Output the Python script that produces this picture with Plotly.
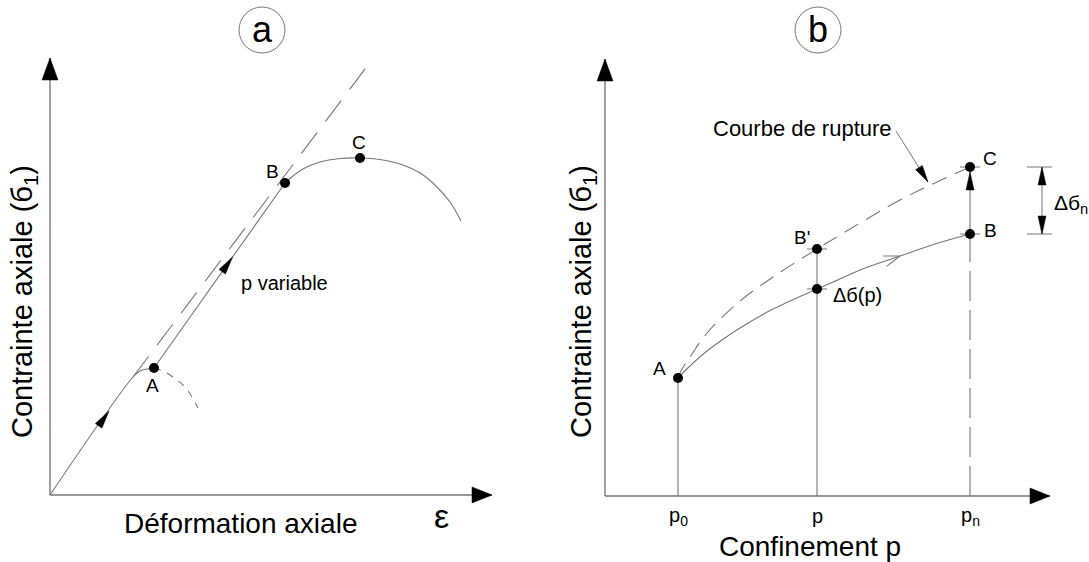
import numpy as np
import plotly.graph_objects as go

# ---------------- data (1 unit = 10 px on both axes) ----------------
# Panel a : axial stress vs axial strain
a_axis_x_end = 44.2
a_axis_y_end = 43.7
a_load_x = [0, 8.3, 9.0, 9.7, 10.4]
a_load_y = [0, 11.8, 12.4, 12.6, 12.7]
a_unload_x = [10.4, 11.5, 12.7, 13.5, 14.2, 14.8]
a_unload_y = [12.7, 12.3, 11.5, 10.8, 9.8, 8.7]
a_path_x = [10.4, 23.5]
a_path_y = [12.7, 31.2]
a_tangent_x = [8.3, 31.8]
a_tangent_y = [11.8, 43.0]
a_peak_x = [23.5, 24.3, 25.3, 27.0, 29.0, 31.0, 33.0, 35.0, 37.0, 38.5, 40.0, 41.1]
a_peak_y = [31.2, 31.9, 32.6, 33.3, 33.65, 33.7, 33.55, 33.1, 32.2, 31.0, 29.3, 27.4]
a_pts_name = ["A", "B", "C"]
a_pts_x = [10.4, 23.5, 31.0]
a_pts_y = [12.7, 31.2, 33.7]
a_lab_x = [10.2, 22.2, 30.9]
a_lab_y = [11.0, 32.4, 35.3]

# Panel b : axial stress vs confinement
b_axis_x_end = 44.5
b_axis_y_end = 43.7
b_p_names = ["p<sub>0</sub>", "p", "p<sub>n</sub>"]
b_p_vals = [7.3, 21.2, 36.5]
b_path_x = [7.3, 8.5, 10.2, 13.5, 16.8, 21.2, 22.8, 26.0, 29.5, 33.0, 36.5]
b_path_y = [11.8, 13.0, 14.5, 16.8, 18.7, 20.7, 21.4, 22.8, 24.0, 25.2, 26.2]
b_rupt_x = [7.3, 7.7, 8.5, 10.2, 13.5, 16.8, 21.2, 24.5, 29.5, 33.0, 36.5]
b_rupt_y = [11.8, 12.7, 13.9, 16.3, 19.5, 21.9, 24.7, 26.7, 29.6, 31.3, 32.9]
b_pts_name = ["A", "B'", "Δб(p)", "B", "C"]
b_pts_x = [7.3, 21.2, 21.2, 36.5, 36.5]
b_pts_y = [11.8, 24.7, 20.7, 26.2, 32.9]
b_lab_x = [5.4, 19.7, 25.2, 38.5, 38.5]
b_lab_y = [12.8, 25.9, 20.1, 26.6, 33.8]
b_pn_break = 23.6

GRAY = "#777777"
FONT = "Liberation Sans, Arial, sans-serif"

fig = go.Figure()


def line(x, y, xa, ya, dash="solid", width=1.1, color=GRAY, shape="linear"):
    fig.add_trace(go.Scatter(x=x, y=y, mode="lines", xaxis=xa, yaxis=ya,
                             line=dict(color=color, width=width, dash=dash, shape=shape),
                             hoverinfo="skip"))


def head(tip, frm, L, W, xa, ya, filled=True):
    t = np.array(tip, float)
    f = np.array(frm, float)
    d = (t - f) / np.linalg.norm(t - f)
    n = np.array([-d[1], d[0]])
    base = t - d * L
    p1 = base + n * W
    p2 = base - n * W
    if filled:
        fig.add_trace(go.Scatter(x=[t[0], p1[0], p2[0], t[0]], y=[t[1], p1[1], p2[1], t[1]],
                                 mode="lines", fill="toself", fillcolor="black",
                                 line=dict(color="black", width=0.5), xaxis=xa, yaxis=ya,
                                 hoverinfo="skip"))
    else:
        fig.add_trace(go.Scatter(x=[p1[0], t[0], p2[0]], y=[p1[1], t[1], p2[1]],
                                 mode="lines", line=dict(color=GRAY, width=1.1),
                                 xaxis=xa, yaxis=ya, hoverinfo="skip"))


# ---------------- panel a ----------------
line([0, a_axis_x_end], [0, 0], "x", "y", width=1.4)
line([0, 0], [0, a_axis_y_end], "x", "y", width=1.4)
head((a_axis_x_end, 0), (0, 0), 2.0, 0.8, "x", "y")
head((0, a_axis_y_end), (0, 0), 2.2, 0.8, "x", "y")
line(a_load_x, a_load_y, "x", "y", shape="spline")
line(a_unload_x, a_unload_y, "x", "y", dash="7px,7px", shape="spline")
line(a_path_x, a_path_y, "x", "y")
line(a_tangent_x, a_tangent_y, "x", "y", dash="26px,14px")
line(a_peak_x, a_peak_y, "x", "y", shape="spline")
# flow arrows along loading path
head((5.9, 5.9 * a_load_y[1] / a_load_x[1]), (0, 0), 1.8, 0.4, "x", "y")
t = 0.6
head((a_path_x[0] + t * (a_path_x[1] - a_path_x[0]), a_path_y[0] + t * (a_path_y[1] - a_path_y[0])),
     (a_path_x[0], a_path_y[0]), 1.8, 0.4, "x", "y")
fig.add_trace(go.Scatter(x=a_pts_x, y=a_pts_y, mode="markers", xaxis="x", yaxis="y",
                         marker=dict(color="black", size=10), hoverinfo="skip"))

# ---------------- panel b ----------------
line([0, b_axis_x_end], [0, 0], "x2", "y2", width=1.4)
line([0, 0], [0, b_axis_y_end], "x2", "y2", width=1.4)
head((b_axis_x_end, 0), (0, 0), 2.0, 0.8, "x2", "y2")
head((0, b_axis_y_end), (0, 0), 2.2, 0.8, "x2", "y2")
line(b_rupt_x, b_rupt_y, "x2", "y2", dash="16px,9px", shape="spline")
line(b_path_x, b_path_y, "x2", "y2", shape="spline")
# verticals
line([b_p_vals[0], b_p_vals[0]], [0, b_pts_y[0]], "x2", "y2")
line([b_p_vals[1], b_p_vals[1]], [0, b_pts_y[1]], "x2", "y2")
line([b_p_vals[2], b_p_vals[2]], [0, b_pn_break], "x2", "y2", dash="30px,9px")
line([b_p_vals[2], b_p_vals[2]], [b_pn_break, b_pts_y[4] - 0.5], "x2", "y2")
head((b_p_vals[2], b_pts_y[4] - 0.5), (b_p_vals[2], b_pts_y[3]), 1.8, 0.4, "x2", "y2")
# small ticks at points
for px_, py_ in zip(b_pts_x[1:], b_pts_y[1:]):
    line([px_ - 1.0, px_ + 1.0], [py_, py_], "x2", "y2", width=1)
# open chevron on stress path
head((29.5, 24.0), (26.0, 22.8), 1.6, 0.55, "x2", "y2", filled=False)
# leader arrow for "Courbe de rupture"
line([29.1, 32.3], [36.5, 31.4], "x2", "y2", width=1)
head((32.3, 31.4), (29.1, 36.5), 1.7, 0.4, "x2", "y2")
# dimension Δσn
dim_x = 43.7
line([42.2, 44.7], [b_pts_y[4], b_pts_y[4]], "x2", "y2", width=1)
line([42.2, 44.7], [b_pts_y[3], b_pts_y[3]], "x2", "y2", width=1)
line([dim_x, dim_x], [b_pts_y[3], b_pts_y[4]], "x2", "y2", width=1)
head((dim_x, b_pts_y[4]), (dim_x, b_pts_y[3]), 1.8, 0.4, "x2", "y2")
head((dim_x, b_pts_y[3]), (dim_x, b_pts_y[4]), 1.8, 0.4, "x2", "y2")
fig.add_trace(go.Scatter(x=b_pts_x, y=b_pts_y, mode="markers", xaxis="x2", yaxis="y2",
                         marker=dict(color="black", size=10), hoverinfo="skip"))

# panel letters in circles
fig.add_trace(go.Scatter(x=[21.2], y=[46.5], mode="markers", xaxis="x", yaxis="y",
                         marker=dict(size=46, color="white", line=dict(color=GRAY, width=1)),
                         hoverinfo="skip"))
fig.add_trace(go.Scatter(x=[21.3], y=[46.6], mode="markers", xaxis="x2", yaxis="y2",
                         marker=dict(size=46, color="white", line=dict(color=GRAY, width=1)),
                         hoverinfo="skip"))

ann = []


def text(x, y, s, size, xa, ya, xanchor="center", angle=0):
    ann.append(dict(x=x, y=y, xref=xa, yref=ya, text=s, showarrow=False,
                    xanchor=xanchor, yanchor="middle", textangle=angle,
                    font=dict(family=FONT, size=size, color="black")))


for n_, x_, y_ in zip(a_pts_name, a_lab_x, a_lab_y):
    text(x_, y_, n_, 19, "x", "y")
text(23.45, 21.2, "p variable", 20, "x", "y")
text(19.0, -2.8, "Déformation axiale", 28, "x", "y")
text(39.1, -2.1, "ε", 34, "x", "y")
text(-2.6, 19.3, "Contrainte axiale (б<sub>1</sub>)", 29, "x", "y", angle=-90)
text(21.2, 46.6, "a", 36, "x", "y")

for n_, x_, y_ in zip(b_pts_name, b_lab_x, b_lab_y):
    text(x_, y_, n_, 20 if n_ == "Δб(p)" else 19, "x2", "y2")
for n_, v_ in zip(b_p_names, b_p_vals):
    text(v_, -2.0, n_, 20, "x2", "y2")
text(20.5, -5.0, "Confinement p", 28, "x2", "y2")
text(-2.2, 19.4, "Contrainte axiale (б<sub>1</sub>)", 29, "x2", "y2", angle=-90)
text(19.7, 36.8, "Courbe de rupture", 22, "x2", "y2")
text(44.7, 29.2, "Δб<sub>n</sub>", 21, "x2", "y2", xanchor="left")
text(21.3, 46.7, "b", 36, "x2", "y2")

hidden = dict(visible=False, showgrid=False, zeroline=False, fixedrange=True)
fig.update_layout(
    width=1089, height=562, autosize=False,
    margin=dict(l=0, r=0, t=0, b=0),
    paper_bgcolor="white", plot_bgcolor="white", showlegend=False,
    xaxis=dict(domain=[0, 0.5], range=[-5.0, 49.45], **hidden),
    yaxis=dict(domain=[0, 1], range=[-6.7, 49.5], **hidden),
    xaxis2=dict(domain=[0.5, 1], range=[-6.05, 48.4], **hidden),
    yaxis2=dict(domain=[0, 1], range=[-6.6, 49.6], anchor="x2", **hidden),
    annotations=ann,
)
fig.write_html("out.html", config={"displayModeBar": False},
               post_script="document.body.style.margin='0';document.body.style.overflow='hidden';")
